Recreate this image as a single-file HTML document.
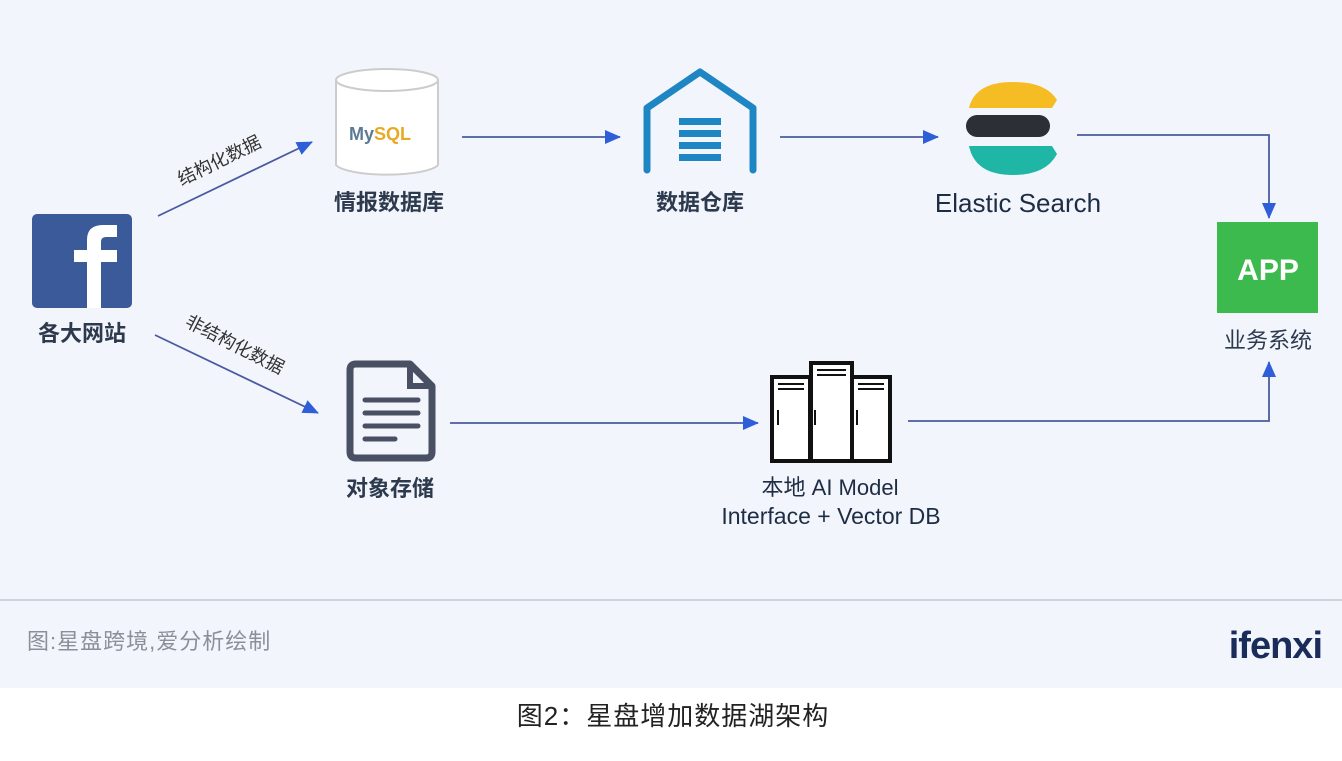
<!DOCTYPE html>
<html><head><meta charset="utf-8"><style>
body{margin:0;width:1342px;height:756px;background:#fff;overflow:hidden;font-family:"Liberation Sans","Noto Sans CJK SC",sans-serif}
</style></head><body>
<svg width="1342" height="756" viewBox="0 0 1342 756" xmlns="http://www.w3.org/2000/svg" font-family="Liberation Sans, Noto Sans CJK SC, sans-serif">
<defs><marker id="b" markerWidth="16" markerHeight="14" refX="15" refY="7" orient="auto" markerUnits="userSpaceOnUse"><path d="M0,0 L16,7 L0,14z" fill="#2f5fd8"/></marker></defs>
<rect x="0" y="0" width="1342" height="688" fill="#f2f5fb"/>
<line x1="0" y1="600" x2="1342" y2="600" stroke="#cfd4dc" stroke-width="2"/>
<!-- facebook -->
<rect x="32" y="214" width="100" height="94" rx="5" fill="#3b5a9a"/>
<path d="M87,308 V262 H74 V250 H87 V240 Q87,225 103,225 H117 V237 H106 Q101,237 101,242 V250 H117 V262 H101 V308z" fill="#fff"/>
<text x="82" y="341" font-size="22" font-weight="bold" text-anchor="middle" fill="#2d3a4e">各大网站</text>
<!-- diag arrows -->
<line x1="158" y1="216" x2="312" y2="142" stroke="#4a5aa0" stroke-width="1.8" marker-end="url(#b)"/>
<text transform="translate(222,166) rotate(-26)" font-size="18" text-anchor="middle" fill="#333">结构化数据</text>
<line x1="155" y1="335" x2="318" y2="413" stroke="#4a5aa0" stroke-width="1.8" marker-end="url(#b)"/>
<text transform="translate(232,350) rotate(27)" font-size="18" text-anchor="middle" fill="#333">非结构化数据</text>
<!-- mysql -->
<path d="M336,80 V165 A52,12 0 0 0 438,165 V80" fill="#fff" stroke="#ccc" stroke-width="2"/>
<ellipse cx="387" cy="80" rx="51" ry="11" fill="#fff" stroke="#ccc" stroke-width="2"/>
<text x="349" y="140" font-size="18" font-weight="bold" fill="#5b7a94">My<tspan fill="#e8a923">SQL</tspan></text>
<text x="389" y="210" font-size="22" font-weight="bold" text-anchor="middle" fill="#2d3a4e">情报数据库</text>
<line x1="462" y1="137" x2="620" y2="137" stroke="#4a5aa0" stroke-width="1.8" marker-end="url(#b)"/>
<!-- warehouse -->
<path d="M647,170 V108 L700,72 L753,108 V170" fill="none" stroke="#1f86c4" stroke-width="7" stroke-linecap="round" stroke-linejoin="round"/>
<g fill="#1f86c4"><rect x="679" y="118" width="42" height="7"/><rect x="679" y="130" width="42" height="7"/><rect x="679" y="142" width="42" height="7"/><rect x="679" y="154" width="42" height="7"/></g>
<text x="700" y="210" font-size="22" font-weight="bold" text-anchor="middle" fill="#2d3a4e">数据仓库</text>
<line x1="780" y1="137" x2="938" y2="137" stroke="#4a5aa0" stroke-width="1.8" marker-end="url(#b)"/>
<!-- elastic -->
<path d="M969,108 Q975,82 1013,82 Q1046,82 1057,100 L1052,108 Z" fill="#f5bc24"/>
<rect x="966" y="115" width="84" height="22" rx="11" fill="#2d2f36"/>
<path d="M969,146 H1052 L1057,154 Q1046,175 1013,175 Q975,175 969,146 Z" fill="#1fb6a6"/>
<text x="1018" y="212" font-size="26" text-anchor="middle" fill="#1e2d44">Elastic Search</text>
<polyline points="1077,135 1269,135 1269,218" fill="none" stroke="#4a5aa0" stroke-width="1.8" marker-end="url(#b)"/>
<!-- app -->
<rect x="1217" y="222" width="101" height="91" fill="#3dba4e"/>
<text x="1268" y="280" font-size="30" font-weight="bold" text-anchor="middle" fill="#fff">APP</text>
<text x="1268" y="348" font-size="22" text-anchor="middle" fill="#2d3a4e">业务系统</text>
<!-- file -->
<path d="M356,364 H410 L432,386 V452 Q432,458 426,458 H356 Q350,458 350,452 V370 Q350,364 356,364Z" fill="none" stroke="#4a5063" stroke-width="7" stroke-linejoin="round"/>
<path d="M410,364 V386 H432" fill="none" stroke="#4a5063" stroke-width="6"/>
<g stroke="#4a5063" stroke-width="5" stroke-linecap="round"><line x1="365" y1="400" x2="418" y2="400"/><line x1="365" y1="413" x2="418" y2="413"/><line x1="365" y1="426" x2="418" y2="426"/><line x1="365" y1="439" x2="395" y2="439"/></g>
<text x="390" y="496" font-size="22" font-weight="bold" text-anchor="middle" fill="#2d3a4e">对象存储</text>
<line x1="450" y1="423" x2="758" y2="423" stroke="#4a5aa0" stroke-width="1.8" marker-end="url(#b)"/>
<!-- servers -->
<g fill="#fff" stroke="#111" stroke-width="4">
<rect x="772" y="377" width="38" height="84"/><rect x="852" y="377" width="38" height="84"/><rect x="811" y="363" width="41" height="98"/></g>
<g stroke="#111" stroke-width="2"><line x1="778" y1="384" x2="804" y2="384"/><line x1="778" y1="389" x2="804" y2="389"/><line x1="858" y1="384" x2="884" y2="384"/><line x1="858" y1="389" x2="884" y2="389"/><line x1="817" y1="370" x2="846" y2="370"/><line x1="817" y1="375" x2="846" y2="375"/>
<line x1="778" y1="410" x2="778" y2="425"/><line x1="815" y1="410" x2="815" y2="425"/><line x1="857" y1="410" x2="857" y2="425"/></g>
<text x="830" y="495" font-size="22" text-anchor="middle" fill="#1e2d44">本地 AI Model</text>
<text x="831" y="524" font-size="23" text-anchor="middle" fill="#1e2d44">Interface + Vector DB</text>
<polyline points="908,421 1269,421 1269,362" fill="none" stroke="#4a5aa0" stroke-width="1.8" marker-end="url(#b)"/>
<!-- footer -->
<text x="27" y="649" font-size="22" fill="#8a8f98" letter-spacing="1">图:星盘跨境,爱分析绘制</text>
<text x="1322" y="658" font-size="38" font-weight="bold" text-anchor="end" fill="#1a2d5a" letter-spacing="-1">ifenxi</text>
<text x="673" y="725" font-size="26" text-anchor="middle" fill="#222" letter-spacing="1">图2：星盘增加数据湖架构</text>
</svg>
</body></html>
